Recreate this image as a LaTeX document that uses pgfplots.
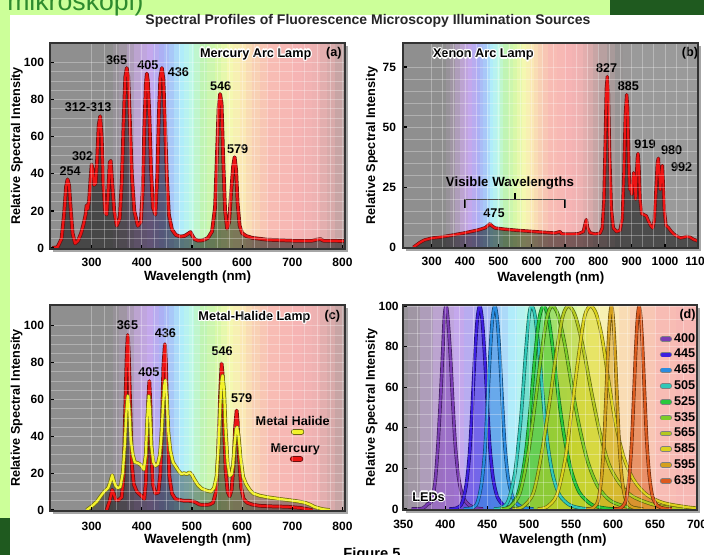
\documentclass[border=0pt]{standalone}
\usepackage{fontspec}
\setmainfont{Liberation Sans}
\usepackage{pgfplots}
\usepackage{pgfplotstable}
\pgfplotsset{compat=1.18}

\definecolor{lgreen}{HTML}{CCFF99}
\definecolor{dgreen}{HTML}{1F5A1F}
\definecolor{mtext}{HTML}{2E8B2E}
% light spectrum background
\definecolor{bgA}{HTML}{8F8F8F}
\definecolor{bgB}{HTML}{A096A4}
\definecolor{bgC}{HTML}{BCA4D0}
\definecolor{bgD}{HTML}{C4A8EC}
\definecolor{bgE}{HTML}{ACB0F4}
\definecolor{bgF}{HTML}{A8C8F8}
\definecolor{bgG}{HTML}{B0ECFA}
\definecolor{bgH}{HTML}{BEF8E6}
\definecolor{bgI}{HTML}{C0F4B4}
\definecolor{bgJ}{HTML}{D8F8A8}
\definecolor{bgK}{HTML}{F4F8B0}
\definecolor{bgL}{HTML}{FAE8B4}
\definecolor{bgM}{HTML}{F8D0B4}
\definecolor{bgN}{HTML}{F8BCB4}
\definecolor{bgO}{HTML}{F6B4B4}
\definecolor{bgP}{HTML}{EEB2B2}
\definecolor{bgQ}{HTML}{D8AAAA}
\definecolor{bgR}{HTML}{B8A0A0}
\definecolor{bgS}{HTML}{989494}
\definecolor{bgT}{HTML}{9A9A9A}
% lines
\definecolor{redc}{HTML}{EE1414}
\definecolor{redo}{HTML}{6A1010}
\definecolor{yelc}{HTML}{F2F22A}
\definecolor{yelo}{HTML}{6E6A10}
% LEDs
\definecolor{L400}{HTML}{7A3CB4}
\definecolor{L445}{HTML}{3C1EE0}
\definecolor{L465}{HTML}{2A8CE0}
\definecolor{L505}{HTML}{30C8B8}
\definecolor{L525}{HTML}{28C83C}
\definecolor{L535}{HTML}{7CCC28}
\definecolor{L565}{HTML}{B4C81E}
\definecolor{L585}{HTML}{DCD21E}
\definecolor{L595}{HTML}{D4A01C}
\definecolor{L635}{HTML}{DC5A1E}

% ---------------- data ----------------
\pgfplotstableread{
x y
222 0
232 0.5
240 5
245 18
249 33
252 37
255 34
258 22
262 8
267 2.5
273 4
279 8
284 13
288 18
290 23
292 21
295 26
298 38
300 45
302 42
305 34
308 35
311 48
314 66
317 71
320 60
323 35
327 19
330 18
333 30
336 46
338 47
341 35
345 20
350 12
356 16
360 35
364 70
367 92
370 97
373 92
376 70
380 40
385 20
392 12
398 14
402 32
405 65
408 88
410 94
412 90
415 72
418 45
422 22
427 18
431 40
434 72
437 92
440 97
443 91
446 68
450 38
454 18
460 10
468 7
477 6.2
485 6.5
491 7.5
497 8.6
500 7
505 4.8
512 4
522 4.2
532 5.5
540 9
546 22
550 52
553 75
556 83
559 78
562 50
566 20
570 10.5
574 14
578 30
582 44
585 49
588 42
591 24
595 12
600 8
608 6.5
620 5.5
650 4.5
700 4
740 4
750 4.6
756 4.8
762 4
805 3.8
}\hgA

\pgfplotstableread{
x y
245 0
255 1
265 2
278 3
300 3.8
330 4.3
360 5
400 6
440 7.2
462 8.2
470 9.2
475 9.8
480 9
490 8
520 7.5
560 7
600 6.6
640 6.2
670 5.9
685 6.5
690 5.6
700 5.5
720 5.5
740 5.6
755 6.5
760 9.5
764 11.5
768 8
775 6
790 5.5
805 5.8
812 8
817 20
821 45
824 66
827 71
830 64
834 38
839 16
845 8
855 6.5
865 7
872 12
877 32
881 55
885 63.5
888 58
891 36
894 24
897 26
900 22
903 27
906 31
909 27
912 20
914 28
917 37
919 39
922 33
925 20
930 14
937 13.5
944 13
950 11
957 9
963 8
968 11
973 24
977 35
980 37
983 30
986 24
989 30
992 34
995 26
998 15
1003 9
1010 8.2
1018 6.7
1026 5.5
1036 4.6
1046 3.9
1055 4.1
1065 4.5
1075 4.2
1085 3.3
1095 2.8
1100 2.5
}\xeA

\pgfplotstableread{
x y
290 0
300 2
310 4.5
318 7.5
325 10
333 12
338 16
341 19
344 16
348 13
352 12
357 12.5
362 20
366 35
369 52
372 62
375 55
378 38
382 30
386 26
392 25.5
398 24.5
404 22
408 30
411 50
414 62
416 55
419 35
423 26
427 24
432 25
436 30
439 40
442 55
445 68
447 70.5
450 60
453 42
457 32
462 26
468 23.5
474 21
479 19.5
484 20
490 19.5
495 20.5
500 19
505 16.5
512 13.5
520 11.5
530 10.5
538 10
544 12
549 18
553 35
556 55
559 70
561 73
564 65
567 44
571 26
575 18.5
579 19.5
582 25
585 36
588 44
590 45
593 40
597 28
602 18
608 14
615 11
622 9
635 7.8
650 7
670 6.2
690 5.5
710 4.8
725 4
735 3
745 1.6
760 0.5
775 0
}\mhY

\pgfplotstableread{
x y
330 0
336 5
341 11
344 9
348 5.5
354 5.5
360 7
364 20
367 55
370 85
372 95
374 85
377 55
380 25
384 14
390 10
398 8
405 6
408 15
411 40
413 60
415 70
417 58
419 32
422 14
427 9
433 9.5
437 20
440 45
443 78
446 90
448 80
451 45
455 18
460 9
467 6
475 5.5
485 5
495 5
505 4.5
515 3
525 2.8
535 3
542 4
548 10
552 30
556 62
559 79.5
561 74
564 45
567 22
571 10
575 7.5
579 11
583 25
586 45
589 54
591 48
594 28
598 12
603 6
610 4
620 3
635 2.3
660 2
690 1.8
715 1.2
730 0.5
740 0
}\mhR

\pgfplotstableread{
x y
360 0
373 0.3
379 2.5
384 4
388 14
391 30
394 52
397 78
399 95
401 100
403 94
406 76
409 52
412 31
416 15
421 6
428 2
436 0.5
445 0
}\ledA
\pgfplotstableread{
x y
405 0
414 0.5
420 3
425 12
429 28
432 50
435 74
438 93
441 100
444 93
447 75
450 52
453 31
457 15
462 6
469 2
477 0.5
487 0
}\ledB
\pgfplotstableread{
x y
422 0
432 0.5
438 3
443 12
447 28
450 50
453 74
456 93
459 100
462 93
465 75
468 52
471 31
475 15
480 6
487 2
495 0.5
505 0
}\ledC
\pgfplotstableread{
x y
458 0
467 0.5
475 4
483 18
489 40
492 55
496 78
500 96
503 100
507 95
512 76
517 52
522 32
528 17
536 7
548 2
563 0.3
575 0
}\ledD
\pgfplotstableread{
x y
468 0
477 1
487 8
495 25
501 48
507 76
512 94
517 100
523 94
529 76
535 55
542 35
550 19
560 8
575 2
592 0.3
605 0
}\ledE
\pgfplotstableread{
x y
466 0
477 1
489 8
499 28
507 52
514 75
521 94
527 100
534 96
542 82
551 60
560 40
570 23
582 11
597 4
617 1
635 0
}\ledF
\pgfplotstableread{
x y
480 0
492 1
505 8
515 28
524 52
532 76
540 95
547 100
555 95
564 80
574 58
584 38
595 22
607 13
622 6.5
645 2.5
670 0.5
690 0
}\ledG
\pgfplotstableread{
x y
510 0
521 1
533 7
543 25
551 50
559 76
566 95
573 100
580 96
587 84
595 62
603 42
613 25
625 14
640 7
660 3
690 0.8
705 0.3
}\ledH
\pgfplotstableread{
x y
568 0
576 0.5
582 4
586 15
589 32
591 50
594 79
596 94
598 100
600 94
602 80
605 52
607 34
610 17
614 6
620 1.5
628 0.3
636 0
}\ledI
\pgfplotstableread{
x y
601 0
609 0.5
615 4
619 15
622 32
624 50
627 79
629 94
631 100
633 94
635 80
638 52
640 34
643 17
647 6
653 1.5
661 0.3
670 0
}\ledJ

% ---------------- styles ----------------
\tikzset{
  lab/.style={font=\fontsize{9.5}{10}\selectfont\bfseries, inner sep=0pt},
  redout/.style={draw=redo, line width=2.8pt, line join=round},
  redin/.style={draw=redc, line width=1.7pt, line join=round},
}
\pgfplotsset{
  panel/.style={
    scale only axis, axis on top,
    axis line style={draw=black!80, line width=1.3pt},
    tick pos=left, tick align=inside, major tick length=3pt, minor tick length=0pt,
    major tick style={black, line width=0.9pt},
    grid=both,
    major grid style={white, opacity=0.3, line width=0.6pt},
    minor grid style={white, opacity=0.3, line width=0.6pt},
    tick label style={font=\fontsize{9}{10}\selectfont\bfseries},
    xticklabel style={yshift=-3.5pt},
    yticklabel style={xshift=-1pt},
    /pgf/number format/assume math mode=true,
    /pgf/number format/1000 sep={},
    xlabel={Wavelength (nm)}, ylabel={Relative Spectral Intensity},
    xlabel style={font=\fontsize{10}{11}\selectfont\bfseries, anchor=center},
    ylabel style={font=\fontsize{9.5}{10}\selectfont\bfseries, anchor=center},
  },
}
% background spectrum: each band runs from its start to beyond the right edge
\newcommand{\band}[2]{\addplot[forget plot, draw=none, fill=#2] coordinates {(#1,300) (1200,300)} \closedcycle;}
\newcommand{\specbands}{%
\band{100}{bgA}
\band{342}{bgB!50!bgA}
\band{355}{bgB}
\band{370}{bgC!50!bgB}
\band{385}{bgC}
\band{397}{bgD!50!bgC}
\band{410}{bgD}
\band{422}{bgE!50!bgD}
\band{435}{bgE}
\band{445}{bgF!50!bgE}
\band{455}{bgF}
\band{465}{bgG!50!bgF}
\band{475}{bgG}
\band{485}{bgH!50!bgG}
\band{495}{bgH}
\band{505}{bgI!50!bgH}
\band{515}{bgI}
\band{530}{bgJ!50!bgI}
\band{545}{bgJ}
\band{557}{bgK!50!bgJ}
\band{570}{bgK}
\band{582}{bgL!50!bgK}
\band{595}{bgL}
\band{607}{bgM!50!bgL}
\band{620}{bgM}
\band{635}{bgN!50!bgM}
\band{650}{bgN}
\band{675}{bgO!50!bgN}
\band{700}{bgO}
\band{720}{bgP!50!bgO}
\band{740}{bgP}
\band{755}{bgQ!50!bgP}
\band{770}{bgQ}
\band{785}{bgR!50!bgQ}
\band{800}{bgR}
\band{825}{bgS!50!bgR}
\band{850}{bgS}
\band{875}{bgT!50!bgS}
\band{900}{bgT}}
\newcommand{\glow}[2]{%
  \node[lab,text=white] at ([shift={(0.9pt,0pt)}]#1) {#2};
  \node[lab,text=white] at ([shift={(-0.9pt,0pt)}]#1) {#2};
  \node[lab,text=white] at ([shift={(0pt,0.9pt)}]#1) {#2};
  \node[lab,text=white] at ([shift={(0pt,-0.9pt)}]#1) {#2};
  \node[lab,text=white] at ([shift={(0.65pt,0.65pt)}]#1) {#2};
  \node[lab,text=white] at ([shift={(-0.65pt,0.65pt)}]#1) {#2};
  \node[lab,text=white] at ([shift={(0.65pt,-0.65pt)}]#1) {#2};
  \node[lab,text=white] at ([shift={(-0.65pt,-0.65pt)}]#1) {#2};
  \node[lab] at (#1) {#2};}
\newcommand{\ledfill}[2]{\addplot[forget plot, draw=none, fill=#2, fill opacity=0.5, smooth] table {#1} \closedcycle;}
\newcommand{\ledline}[2]{%
  \addplot[forget plot, draw=#2!50!black, line width=2.6pt, smooth] table {#1};
  \addplot[draw=#2, line width=1.6pt, smooth] table {#1};}

\begin{document}
\begin{tikzpicture}
\fill[lgreen] (0pt,0pt) rectangle (528pt,416.25pt);
\fill[dgreen] (457.5pt,405pt) rectangle (528pt,416.25pt);
\fill[white] (7.5pt,0pt) rectangle (528pt,405pt);
\fill[dgreen] (0pt,0pt) rectangle (7.5pt,27.75pt);
\node[anchor=base west, text=mtext, font=\fontsize{20}{24}\selectfont, inner sep=0pt] at (5.25pt,408pt) {mikroskopi)};
\node[font=\fontsize{10.5}{12}\selectfont\bfseries, text=black!85] at (276pt,400.5pt) {Spectral Profiles of Fluorescence Microscopy Illumination Sources};
\node[anchor=base, font=\fontsize{11}{12}\selectfont\bfseries, inner sep=0pt] at (279pt,-2.6pt) {Figure 5};
% shadows
\fill[black!35] (39.5pt,227.5pt) rectangle (260.75pt,382pt);
\fill[black!35] (304.5pt,228.25pt) rectangle (525.75pt,382pt);
\fill[black!35] (39.5pt,31pt) rectangle (260.75pt,185.5pt);
\fill[black!35] (304.5pt,31.75pt) rectangle (524.8pt,185.5pt);

% ---------- (a) Mercury ----------
\begin{axis}[panel, at={(37.5pt,229.5pt)}, anchor=south west,
  width=221.25pt, height=154.5pt,
  xmin=217, xmax=805, ymin=-0.5, ymax=110.5,
  xtick={300,400,...,800}, ytick={0,20,...,100},
  minor x tick num=3, minor y tick num=3,
  xlabel style={at={(axis description cs:0.5,-0.134)}},
  ylabel style={at={(axis description cs:-0.112,0.5)}}]
\specbands
\addplot[forget plot, draw=none, fill=black, fill opacity=0.5] table {\hgA} \closedcycle;
\addplot[redout] table {\hgA};
\addplot[redin] table {\hgA};
\node[lab] at (axis cs:257,41.2) {254};
\node[lab] at (axis cs:282,49.5) {302};
\node[lab] at (axis cs:293,76) {312-313};
\node[lab] at (axis cs:350,101) {365};
\node[lab] at (axis cs:412,98.6) {405};
\node[lab] at (axis cs:473,95) {436};
\node[lab] at (axis cs:557,87) {546};
\node[lab] at (axis cs:591,53.4) {579};
\glow{axis cs:627,104.5}{Mercury Arc Lamp}
\node[lab] at (axis cs:783,105) {(a)};
\end{axis}

% ---------- (b) Xenon ----------
\begin{axis}[panel, at={(302.5pt,230.25pt)}, anchor=south west,
  width=221.25pt, height=153.75pt,
  xmin=215, xmax=1100, ymin=-0.3, ymax=85,
  xtick={300,400,...,1100}, ytick={0,25,50,75},
  minor x tick num=2, minor y tick num=4,
  yticklabel style={xshift=-1pt},
  xlabel style={at={(axis description cs:0.5,-0.148)}},
  ylabel style={at={(axis description cs:-0.107,0.5)}}]
\specbands
\addplot[forget plot, draw=none, fill=black, fill opacity=0.5] table {\xeA} \closedcycle;
\addplot[redout, line width=2.5pt] table {\xeA};
\addplot[redin, line width=1.5pt] table {\xeA};
\draw[line width=1pt] (axis cs:400,16.4) -- (axis cs:400,19.75) -- (axis cs:700,19.75) -- (axis cs:700,16.4);
\draw[line width=1pt] (axis cs:550,19.75) -- (axis cs:550,22.6);
\node[lab, font=\fontsize{10}{11}\selectfont\bfseries] at (axis cs:535,26.5) {Visible Wavelengths};
\node[lab] at (axis cs:487,14.3) {475};
\node[lab] at (axis cs:825,74.6) {827};
\node[lab] at (axis cs:890,67) {885};
\node[lab] at (axis cs:940,43) {919};
\node[lab] at (axis cs:1020,40.3) {980};
\node[lab] at (axis cs:1050,33.4) {992};
\glow{axis cs:455,80.1}{Xenon Arc Lamp}
\node[lab] at (axis cs:1075,80.8) {(b)};
\end{axis}

% ---------- (c) Metal halide ----------
\begin{axis}[panel, at={(37.5pt,33pt)}, anchor=south west,
  width=221.25pt, height=154.5pt,
  xmin=217, xmax=805, ymin=-0.5, ymax=111.3,
  xtick={300,400,...,800}, ytick={0,20,...,100},
  minor x tick num=3, minor y tick num=3,
  xticklabel style={yshift=-1pt},
  xlabel style={at={(axis description cs:0.5,-0.141)}},
  ylabel style={at={(axis description cs:-0.113,0.5)}}]
\specbands
\addplot[forget plot, draw=none, fill=black, fill opacity=0.35] table {\mhY} \closedcycle;
\addplot[forget plot, draw=none, fill=black, fill opacity=0.25] table {\mhR} \closedcycle;
\addplot[redout] table {\mhR};
\addplot[redin] table {\mhR};
\addplot[draw=yelo, line width=2.8pt, line join=round] table {\mhY};
\addplot[draw=yelc, line width=1.7pt, line join=round] table {\mhY};
\node[lab] at (axis cs:371.5,100.4) {365};
\node[lab] at (axis cs:414,75) {405};
\node[lab] at (axis cs:447,96) {436};
\node[lab] at (axis cs:560,86) {546};
\node[lab] at (axis cs:599,60.6) {579};
\glow{axis cs:624.5,104.5}{Metal-Halide Lamp}
\node[lab] at (axis cs:780,105.4) {(c)};
\node[lab] at (axis cs:700.7,48.5) {Metal Halide};
\draw[line width=4.4pt, line cap=round, draw=yelo] (axis cs:703,42.5) -- (axis cs:718,42.5);
\draw[line width=3pt, line cap=round, draw=yelc] (axis cs:703,42.5) -- (axis cs:718,42.5);
\node[lab] at (axis cs:706,33) {Mercury};
\draw[line width=4.4pt, line cap=round, draw=redo] (axis cs:701,27.7) -- (axis cs:716,27.7);
\draw[line width=3pt, line cap=round, draw=redc] (axis cs:701,27.7) -- (axis cs:716,27.7);
\end{axis}

% ---------- (d) LEDs ----------
\begin{axis}[panel, at={(302.5pt,33.75pt)}, anchor=south west,
  width=220.3pt, height=153.75pt,
  xmin=350, xmax=700, ymin=-0.5, ymax=100.5,
  xtick={350,400,...,700}, ytick={0,20,...,100},
  minor x tick num=2, minor y tick num=2,
  xticklabel style={yshift=-0.5pt},
  yticklabel style={xshift=1pt},
  xlabel style={at={(axis description cs:0.51,-0.146)}},
  ylabel style={at={(axis description cs:-0.108,0.5)}},
  legend entries={400,445,465,505,525,535,565,585,595,635},
  legend cell align=left,
  legend style={at={(axis description cs:1.015,0.885)}, anchor=north east, draw=none, fill=none,
    font=\fontsize{9.5}{10}\selectfont\bfseries, row sep=0.7pt, nodes={inner sep=1.5pt}},
  legend image code/.code={%
    \draw[#1, draw=black!50, line width=4.2pt, line cap=round] (0pt,0pt) -- (5pt,0pt);
    \draw[#1, line width=2.9pt, line cap=round] (0pt,0pt) -- (5pt,0pt);}]
\specbands
\ledfill{\ledA}{L400}
\ledfill{\ledB}{L445}
\ledfill{\ledC}{L465}
\ledfill{\ledD}{L505}
\ledfill{\ledE}{L525}
\ledfill{\ledF}{L535}
\ledfill{\ledG}{L565}
\ledfill{\ledH}{L585}
\ledfill{\ledI}{L595}
\ledfill{\ledJ}{L635}
\ledline{\ledA}{L400}
\ledline{\ledB}{L445}
\ledline{\ledC}{L465}
\ledline{\ledD}{L505}
\ledline{\ledE}{L525}
\ledline{\ledF}{L535}
\ledline{\ledG}{L565}
\ledline{\ledH}{L585}
\ledline{\ledI}{L595}
\ledline{\ledJ}{L635}
\glow{axis cs:380,6}{LEDs}
\node[lab] at (axis cs:688.7,95.6) {(d)};
\end{axis}
\pgfresetboundingbox
\path[use as bounding box] (0pt,0pt) rectangle (528pt,416.25pt);
\end{tikzpicture}
\end{document}
